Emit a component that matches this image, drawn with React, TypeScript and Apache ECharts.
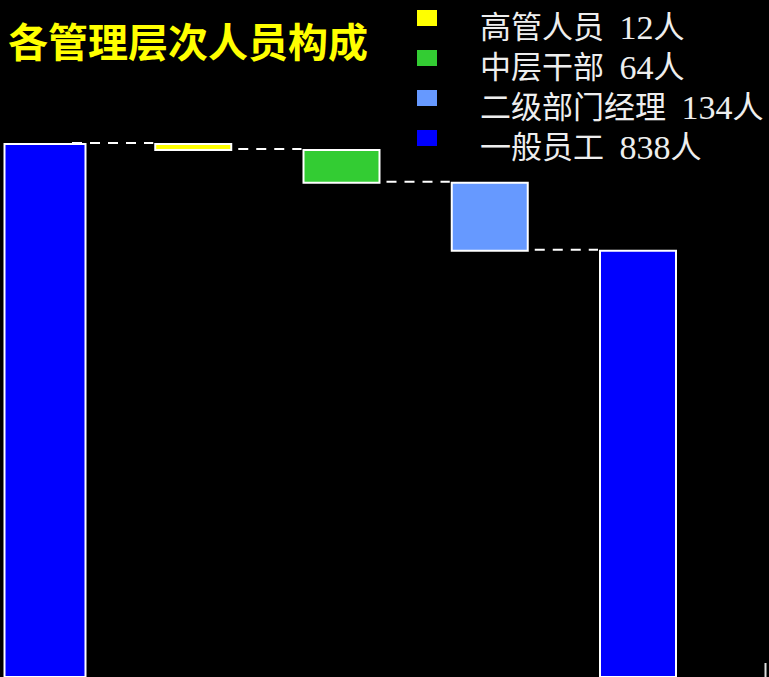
import React, { useEffect, useRef } from "react";
import * as echarts from "echarts";

const titleText = "各管理层次人员构成";
const categories = ["合计", "高管人员", "中层干部", "二级部门经理", "一般员工"];
const groupNames = ["高管人员", "中层干部", "二级部门经理", "一般员工"];
const groupCounts = [12, 64, 134, 838];
const groupColors = ["#FFFF00", "#33CC33", "#6699FF", "#0000FF"];

export default function App() {
  const ref = useRef<HTMLDivElement>(null);

  useEffect(() => {
    if (!ref.current) return;
    const chart = echarts.init(ref.current, null, { renderer: "svg" });

    const total = groupCounts.reduce((a, b) => a + b, 0);
    const levels: number[] = [];
    let acc = total;
    levels.push(acc);
    groupCounts.forEach((c) => {
      acc -= c;
      levels.push(acc);
    });

    const barSeries = groupNames.map((name, g) => {
      let data: number[][];
      if (g === groupNames.length - 1) {
        data = [
          [0, 0, total],
          [categories.length - 1, 0, groupCounts[g]],
        ];
      } else {
        data = [[g + 1, levels[g + 1], levels[g]]];
      }
      return {
        type: "custom",
        name: `${name} ${groupCounts[g]}人`,
        itemStyle: { color: groupColors[g] },
        encode: { x: 0, y: [1, 2] },
        z: 3,
        data,
        renderItem: (params: any, api: any) => {
          const idx = api.value(0);
          const lo = api.coord([idx, api.value(1)]);
          const hi = api.coord([idx, api.value(2)]);
          const w = idx === 0 ? 81 : 76;
          return {
            type: "rect",
            shape: { x: lo[0] - w / 2, y: hi[1], width: w, height: lo[1] - hi[1] },
            style: { fill: groupColors[g], stroke: "#ffffff", lineWidth: 2 },
          };
        },
      };
    });

    const connectorData = [0, 1, 2, 3].map((i) => [i, levels[i]]);
    const connectorSeries = {
      type: "custom",
      name: "connector",
      z: 2,
      encode: { x: 0, y: 1 },
      data: connectorData,
      renderItem: (params: any, api: any) => {
        const i = api.value(0);
        const lv = api.value(1);
        const a = api.coord([i, lv]);
        const b = api.coord([i + 1, lv]);
        return {
          type: "line",
          shape: { x1: a[0] + 27, y1: a[1] - 1, x2: b[0] - 40, y2: a[1] - 1 },
          style: { stroke: "#ffffff", lineWidth: 2, lineDash: [10, 8] },
        };
      },
    };

    chart.setOption({
      animation: false,
      backgroundColor: "#000000",
      title: {
        text: titleText,
        left: 3,
        top: 15,
        textStyle: {
          color: "#FFFF00",
          fontSize: 40,
          fontWeight: "bold",
          fontFamily: "'Noto Sans CJK SC', sans-serif",
        },
      },
      legend: {
        orient: "vertical",
        left: 417,
        top: 10,
        padding: 0,
        itemGap: 6,
        icon: "path://M0,0h20v16h-20zM0,33.99h0.01v0.01h-0.01z",
        itemWidth: 20,
        itemHeight: 34,
        itemStyle: { borderWidth: 0 },
        selectedMode: false,
        data: groupNames.map((n, g) => `${n} ${groupCounts[g]}人`),
        formatter: (name: string) =>
          name.replace(" ", "\u2002").replace(/(\d+)/, "{d|$1}"),
        textStyle: {
          color: "#eeeeee",
          fontSize: 31,
          lineHeight: 21,
          padding: [0, 0, 0, 38],
          fontFamily: "'Liberation Serif', 'Noto Sans CJK SC', serif",
          rich: {
            d: {
              color: "#eeeeee",
              fontSize: 34,
              lineHeight: 21,
              fontFamily: "'Liberation Serif', serif",
            },
          },
        },
      },
      grid: { left: 45, right: 131, top: 144, bottom: 0, containLabel: false },
      xAxis: {
        type: "category",
        data: categories,
        boundaryGap: false,
        show: false,
      },
      yAxis: { type: "value", min: 0, max: total, show: false },
      graphic: [
        {
          type: "line",
          shape: { x1: 765.5, y1: 663, x2: 765.5, y2: 677 },
          style: { stroke: "#dddddd", lineWidth: 2 },
        },
      ],
      series: [connectorSeries, ...barSeries],
    });

    return () => chart.dispose();
  }, []);

  return (
    <div
      ref={ref}
      style={{ position: "fixed", left: 0, top: 0, width: 769, height: 677 }}
    />
  );
}
